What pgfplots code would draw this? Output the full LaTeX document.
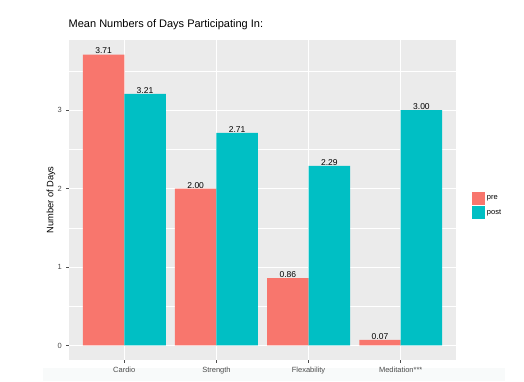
\documentclass[border=0pt]{standalone}
\usepackage{pgfplots}
\pgfplotsset{compat=1.18}
\usepackage{fontspec}
\setmainfont{Liberation Sans}
\definecolor{pre}{HTML}{F8766D}
\definecolor{post}{HTML}{00BFC4}
\definecolor{panel}{HTML}{EBEBEB}
\definecolor{tickc}{HTML}{4D4D4D}
\definecolor{band}{HTML}{F8FAFA}
\begin{document}
\begin{tikzpicture}[x=1pt,y=1pt]
\useasboundingbox (0,0) rectangle (524,381);
\fill[band] (43,0) rectangle (505,13);
\begin{axis}[
  at={(69pt,21pt)}, anchor=south west,
  scale only axis, width=387pt, height=320pt,
  xmin=0.4, xmax=4.6, ymin=-0.1855, ymax=3.8955,
  axis background/.style={fill=panel},
  axis line style={draw=none},
  xtick={1,2,3,4},
  xticklabels={Cardio,Strength,Flexability,Meditation***},
  ytick={0,1,2,3},
  minor ytick={0.5,1.5,2.5,3.5},
  minor tick length=0pt,
  xtick pos=left, ytick pos=left,
  tick align=outside,
  major tick length=2.75pt,
  tick style={color=tickc, line width=0.5pt},
  major grid style={white, line width=1.07pt},
  minor grid style={white, line width=0.53pt},
  xmajorgrids, ymajorgrids, yminorgrids,
  ticklabel style={font=\fontsize{7.5}{8}\selectfont, text=tickc},
  xticklabel style={yshift=-1pt},
  yticklabel style={xshift=-1pt},
  /pgf/number format/assume math mode=true,
  ylabel={Number of Days},
  ylabel style={font=\fontsize{9.3}{10}\selectfont, at={(axis description cs:-0.0465,0.5)}, anchor=center, rotate=0},
  title={Mean Numbers of Days Participating In:},
  title style={font=\fontsize{11}{12}\selectfont, anchor=south west, at={(0,1)}, xshift=-0.5pt, yshift=4pt, inner sep=0pt},
  ybar, bar width=0.45,
  nodes near coords,
  nodes near coords style={font=\fontsize{8.5}{9}\selectfont, text=black, anchor=south, inner sep=0pt, yshift=0.3pt,
    /pgf/number format/.cd, fixed, fixed zerofill, precision=2, assume math mode=true},
  legend image code/.code={\fill[#1] (0pt,-6.5pt) rectangle (13.3pt,6.5pt);},
  legend style={draw=none, fill=none, at={(1.0413,0.526)}, anchor=north west,
    font=\fontsize{7.5}{8}\selectfont, row sep=1.5pt, inner sep=0pt,
    nodes={inner sep=1.5pt}},
  legend cell align=left,
]
\addplot[draw=none, fill=pre, bar shift=-0.225] coordinates {(1,3.71) (2,2.00) (3,0.86) (4,0.07)};
\addplot[draw=none, fill=post, bar shift=0.225] coordinates {(1,3.21) (2,2.71) (3,2.29) (4,3.00)};
\legend{pre,post}
\end{axis}
\end{tikzpicture}
\end{document}
